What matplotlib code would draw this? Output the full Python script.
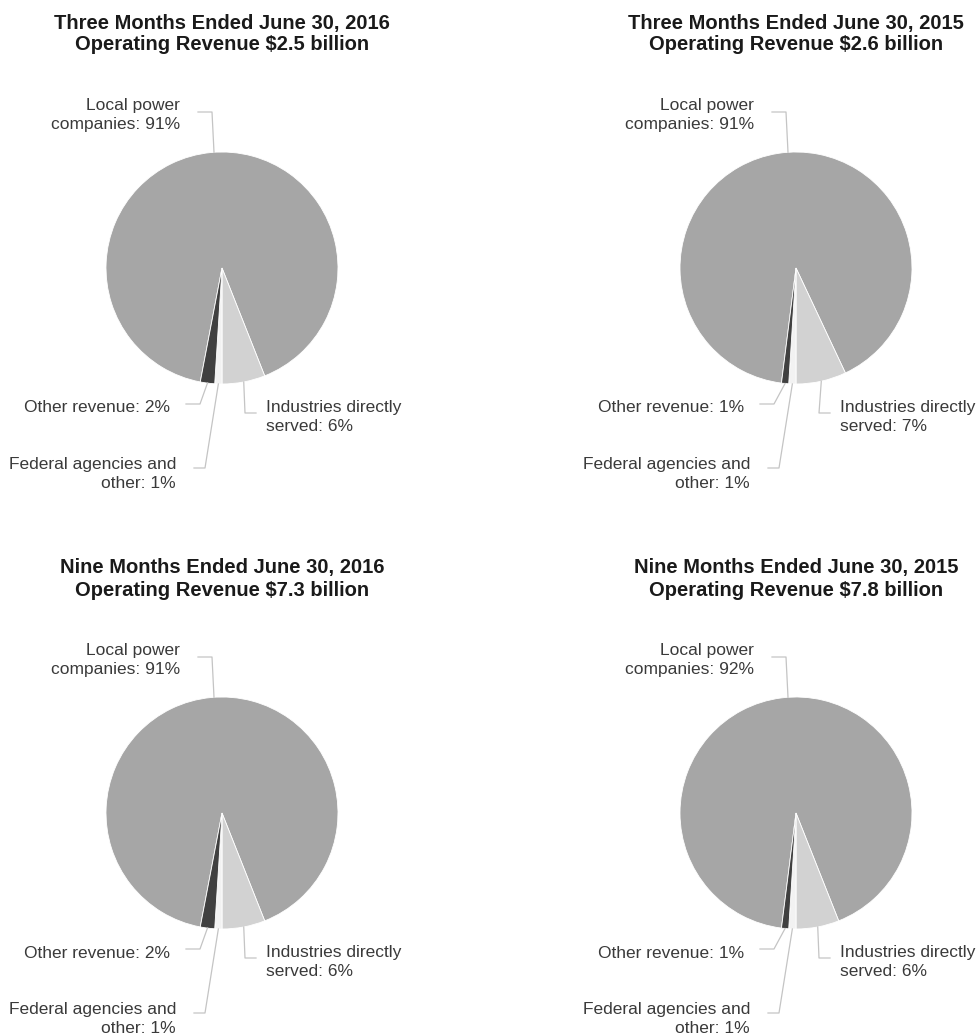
import numpy as np
import matplotlib.pyplot as plt

plt.rcParams['font.family'] = ['Liberation Sans', 'DejaVu Sans']

# data
titles = ['Three Months Ended June 30, 2016\nOperating Revenue $2.5 billion',
          'Three Months Ended June 30, 2015\nOperating Revenue $2.6 billion',
          'Nine Months Ended June 30, 2016\nOperating Revenue $7.3 billion',
          'Nine Months Ended June 30, 2015\nOperating Revenue $7.8 billion']
categories = ['Local power\ncompanies', 'Industries directly\nserved',
              'Federal agencies and\nother', 'Other revenue']
local_power = [91, 91, 91, 92]
industries = [6, 7, 6, 6]
federal = [1, 1, 1, 1]
other_rev = [2, 1, 2, 1]

colors = ['#a6a6a6', '#d2d2d2', '#f2f2f2', '#404040']
line_col = '#c4c4c4'
text_col = '#3a3a3a'

# label layout, in pixels relative to pie centre: elbow x, elbow y, line end x, text x, alignment
layout = [(-10, 156, -24, -42, 'right', -3),
          (23, -145, 34, 44, 'left', -4),
          (-17, -200, -28, -46, 'right', -6),
          (-22, -136, -36, -52, 'right', -4)]

W, H = 976, 1033
fig = plt.figure(figsize=(W / 100, H / 100), dpi=100)

# panel boxes in pixels (x0, x1, y0 from top, y1 from top) and pie centres
panels = [(0, 488, 0, 488, 222, 268),
          (488, 976, 0, 488, 796, 268),
          (0, 488, 488, 1033, 222, 813),
          (488, 976, 488, 1033, 796, 813)]
R = 116

for i, (x0, x1, y0, y1, cx, cy) in enumerate(panels):
    ax = fig.add_axes([x0 / W, (H - y1) / H, (x1 - x0) / W, (y1 - y0) / H])
    vals = [local_power[i], industries[i], federal[i], other_rev[i]]
    start = 270 + (vals[0] + vals[1]) / sum(vals) * 360
    wedges, _ = ax.pie(vals, colors=colors, startangle=start, counterclock=False,
                       radius=R, center=(0, 0),
                       wedgeprops=dict(edgecolor='white', linewidth=0.6))
    ax.set_xlim(x0 - cx, x1 - cx)
    ax.set_ylim(cy - y1, cy - y0)
    ax.set_aspect('auto')
    ax.axis('off')

    for k, (w, cat, v, (ex, ey, lx, tx, ha, dy)) in enumerate(zip(wedges, categories, vals, layout)):
        if k == 0:
            # big slice: connector drops almost straight onto the top of the pie
            px = ex + 2
            py = np.sqrt(R ** 2 - px ** 2)
        else:
            mid = np.deg2rad((w.theta1 + w.theta2) / 2)
            px, py = R * np.cos(mid), R * np.sin(mid)
        ax.plot([px, ex, lx], [py, ey, ey], color=line_col, lw=0.9, zorder=1)
        ax.text(tx, ey + dy, '%s: %d%%' % (cat, v), ha=ha, va='center', ma=ha,
                fontsize=12.5, color=text_col, linespacing=1.36, clip_on=True)

    ax.text(0, 234, titles[i], ha='center', va='center', fontsize=14.5,
            fontweight='bold', color='#1a1a1a', linespacing=1.2)

fig.savefig('out.png', dpi=100, facecolor='white')
